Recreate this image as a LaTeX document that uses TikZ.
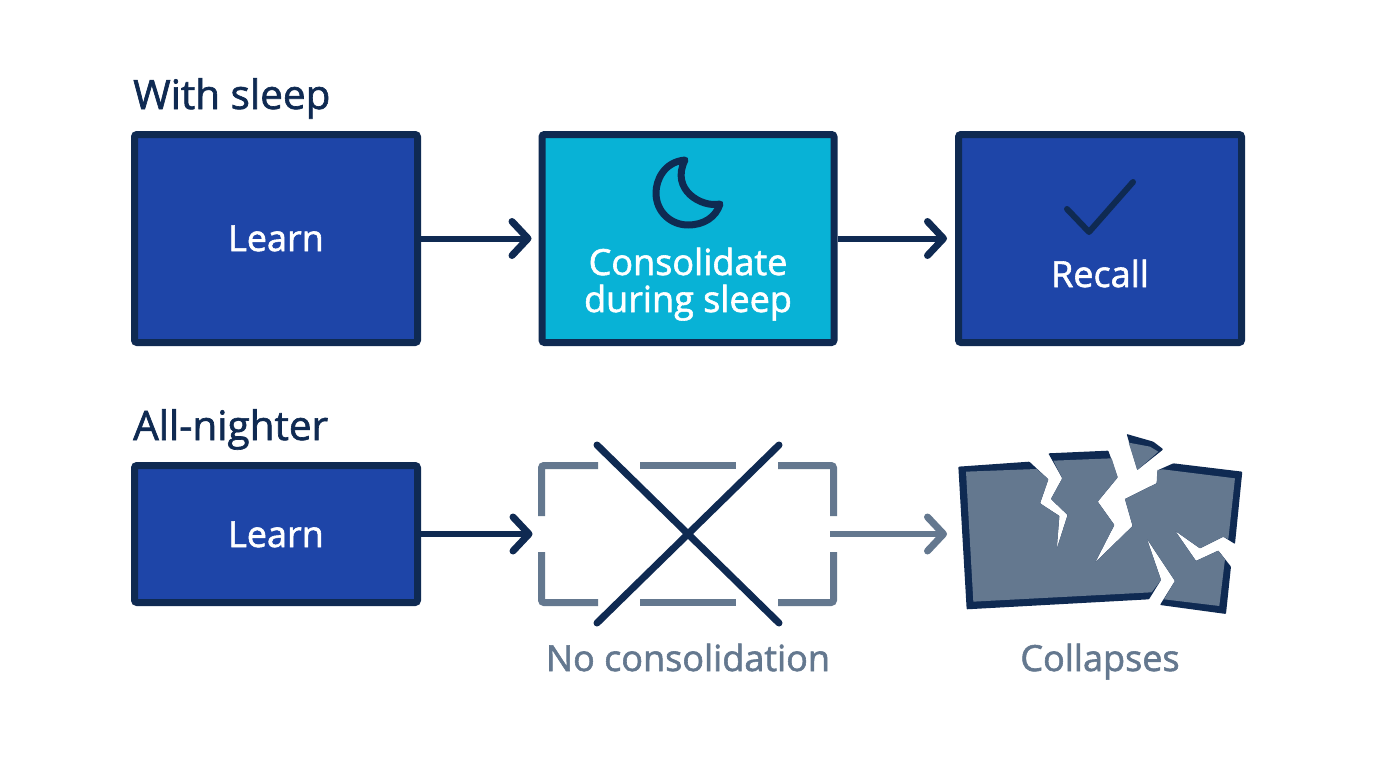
\documentclass[tikz,border=0pt]{standalone}
\usepackage{fontspec}
\setmainfont{Open Sans}[BoldFont={Open Sans},BoldFeatures={FakeBold=1.6}]
\usetikzlibrary{arrows.meta}
\definecolor{navy}{HTML}{0F2A52}
\definecolor{royal}{HTML}{1E45A8}
\definecolor{teal}{HTML}{08B2D6}
\definecolor{slate}{HTML}{64788F}
\tikzset{
  x=1pt,y=-1pt,
  box/.style={draw=navy,line width=7pt,rounded corners=2.5pt,inner sep=0pt},
  learnbox/.style={box,fill=royal,minimum width=283pt},
  heading/.style={anchor=base west,inner sep=0pt,text=navy,font=\fontsize{40.5}{44}\selectfont\bfseries},
  boxtext/.style={inner sep=0pt,text=white,font=\fontsize{36}{40}\selectfont\bfseries,anchor=base},
  mutedtext/.style={inner sep=0pt,text=slate,font=\fontsize{36}{40}\selectfont\bfseries,anchor=base},
  conn/.style={line width=6pt,draw=navy,-{Straight Barb[length=16pt,width=34pt,line width=7pt,round]}},
  mutedconn/.style={conn,draw=slate},
  ghostline/.style={draw=slate,line width=7pt,rounded corners=2.5pt},
  crossbar/.style={draw=navy,line width=7pt,line cap=round},
  glyph/.style={draw=navy,line width=7pt,line cap=round,line join=round},
  shard/.style={fill=navy,rounded corners=0.8pt},
  shardface/.style={fill=slate}
}
\begin{document}
\begin{tikzpicture}
\useasboundingbox (0,0) rectangle (1376,768);
\fill[white] (0,0) rectangle (1376,768);

% Upper row: with sleep
\node[heading] (headA) at (133,109) {With sleep};
\node[learnbox,minimum height=208pt] (learnA) at (276,238.5) {};
\node[box,fill=teal,minimum width=292pt,minimum height=208pt] (cons) at (688,238.5) {};
\node[learnbox,minimum height=208pt] (recall) at (1100,238.5) {};
\node[boxtext] (learnAtxt) at (276,251) {Learn};
\node[boxtext] (constxtA) at (688,275) {Consolidate};
\node[boxtext] (constxtB) at (688,312) {during sleep};
\node[boxtext] (recalltxt) at (1100,287) {Recall};

% Moon icon and check mark
\draw[glyph] (685,160) .. controls (664,162) and (656,180) .. (656,193)
  .. controls (656,212) and (671,225) .. (688,225)
  .. controls (704,225) and (716,217) .. (720,204)
  .. controls (702,208) and (670,190) .. (685,160) -- cycle;
\draw[glyph,line width=6pt] (1067,209) -- (1089,232) -- (1133,182);

\draw[conn,shorten >=7pt] (learnA.east) -- (cons.west);
\draw[conn,shorten >=8pt] (cons.east) -- (recall.west);

% Lower row: all-nighter
\node[heading] (headB) at (133,440) {All-nighter};
\node[learnbox,minimum height=137pt] (learnB) at (276,534) {};
\node[boxtext] (learnBtxt) at (276,547) {Learn};

% Interrupted outline around the missing step
\node[minimum width=299pt,minimum height=144pt,inner sep=0pt,outer sep=0pt] (gone) at (688,534) {};
\draw[ghostline] (541.5,516) -- (541.5,465.5) -- (598,465.5);
\draw[ghostline] (640,465.5) -- (736,465.5);
\draw[ghostline] (778,465.5) -- (833.5,465.5) -- (833.5,516);
\draw[ghostline] (541.5,552) -- (541.5,602.5) -- (598,602.5);
\draw[ghostline] (640,602.5) -- (736,602.5);
\draw[ghostline] (778,602.5) -- (833.5,602.5) -- (833.5,552);
\draw[crossbar] (597,445) -- (779,623);
\draw[crossbar] (779,445) -- (597,623);
\node[mutedtext] (gonetxt) at (688,671) {No consolidation};

% Shattered block
\node[minimum width=282pt,minimum height=170pt,inner sep=0pt,outer sep=0pt] (broken) at (1100,534) {};
\begin{scope}[x=0.3333pt,y=-0.3333pt,shift={(940pt,-420pt)}]
\fill[shard] (55,140) -- (268,125) -- (325,178) -- (300,250) -- (358,288) -- (350,388) -- (383,285) -- (333,237) -- (367,175) -- (325,100) -- (505,92) -- (533,172) -- (473,245) -- (523,315) -- (465,428) -- (578,318) -- (555,237) -- (650,190) -- (655,150) -- (700,130) -- (907,155) -- (885,372) -- (850,350) -- (780,385) -- (705,332) -- (768,423) -- (835,392) -- (873,440) -- (858,582) -- (660,555) -- (705,483) -- (620,355) -- (663,480) -- (627,538) -- (80,568) -- cycle;
\fill[shardface] (78,155) -- (290,147) -- (325,178) -- (300,250) -- (358,288) -- (350,388) -- (383,285) -- (333,237) -- (367,175) -- (340,122) -- (515,115) -- (533,172) -- (473,245) -- (523,315) -- (465,428) -- (578,318) -- (555,237) -- (650,190) -- (652,150) -- (668,148) -- (885,175) -- (865,358) -- (850,350) -- (780,385) -- (705,332) -- (768,423) -- (835,392) -- (855,418) -- (838,558) -- (672,538) -- (705,483) -- (620,355) -- (663,480) -- (635,517) -- (100,545) -- cycle;
\fill[shard] (560,42) -- (640,65) -- (670,88) -- (592,150) -- cycle;
\fill[shardface] (566,68) -- (630,80) -- (655,95) -- (592,150) -- cycle;
\end{scope}
\node[mutedtext] (brokentxt) at (1100,671) {Collapses};

\draw[conn,shorten >=6pt] (learnB.east) -- (gone.west);
\draw[mutedconn,shorten <=-7.5pt,shorten >=12pt] (gone.east) -- (broken.west);
\end{tikzpicture}
\end{document}
